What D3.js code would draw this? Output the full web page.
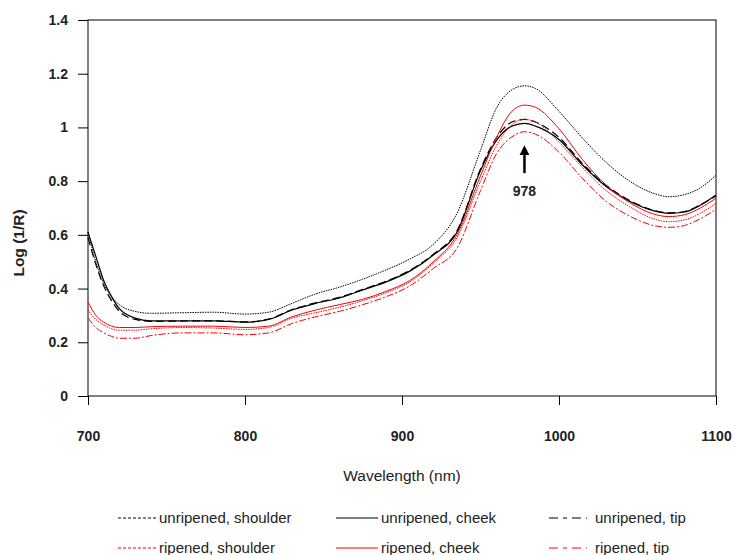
<!DOCTYPE html>
<html>
<head>
<meta charset="utf-8">
<title>NIR spectra</title>
<script src="https://d3js.org/d3.v7.min.js"></script>
<style>
  body { margin: 0; background: #fff; }
  text { font-family: "Liberation Sans", Arial, sans-serif; }
</style>
</head>
<body>
<div id="chart"></div>
<script>
// wavelengths (nm)
var wavelengths = [700, 705, 710, 715, 720, 730, 740, 760, 780, 800, 815, 830, 845, 860, 875, 890, 905, 920, 935, 950, 960, 970, 978, 985, 1000, 1015, 1030, 1045, 1060, 1070, 1080, 1090, 1100];

// log(1/R)
var unripenedShoulder = [0.61, 0.50, 0.42, 0.37, 0.34, 0.315, 0.308, 0.31, 0.312, 0.305, 0.312, 0.345, 0.38, 0.405, 0.435, 0.47, 0.51, 0.565, 0.68, 0.915, 1.07, 1.14, 1.155, 1.145, 1.06, 0.96, 0.87, 0.80, 0.755, 0.742, 0.75, 0.775, 0.822];
var unripenedCheek = [0.61, 0.52, 0.43, 0.37, 0.325, 0.29, 0.28, 0.28, 0.28, 0.275, 0.285, 0.32, 0.345, 0.365, 0.395, 0.425, 0.465, 0.525, 0.61, 0.84, 0.95, 1.005, 1.015, 1.005, 0.955, 0.86, 0.78, 0.725, 0.69, 0.68, 0.685, 0.71, 0.748];
var unripenedTip = [0.59, 0.49, 0.41, 0.355, 0.315, 0.285, 0.278, 0.279, 0.28, 0.276, 0.286, 0.322, 0.347, 0.367, 0.397, 0.428, 0.468, 0.528, 0.615, 0.845, 0.96, 1.02, 1.03, 1.02, 0.963, 0.865, 0.785, 0.728, 0.692, 0.682, 0.687, 0.712, 0.745];
var ripenedShoulder = [0.32, 0.285, 0.265, 0.25, 0.245, 0.245, 0.25, 0.255, 0.253, 0.248, 0.255, 0.29, 0.31, 0.33, 0.355, 0.385, 0.425, 0.495, 0.59, 0.80, 0.93, 1.01, 1.03, 1.02, 0.945, 0.85, 0.765, 0.705, 0.66, 0.649, 0.656, 0.68, 0.718];
var ripenedCheek = [0.35, 0.30, 0.275, 0.26, 0.255, 0.255, 0.258, 0.26, 0.26, 0.255, 0.26, 0.295, 0.32, 0.34, 0.36, 0.39, 0.43, 0.50, 0.60, 0.82, 0.96, 1.06, 1.083, 1.075, 0.995, 0.88, 0.785, 0.72, 0.678, 0.668, 0.675, 0.70, 0.737];
var ripenedTip = [0.29, 0.255, 0.235, 0.222, 0.215, 0.215, 0.225, 0.235, 0.235, 0.228, 0.235, 0.27, 0.295, 0.315, 0.34, 0.37, 0.41, 0.475, 0.55, 0.765, 0.90, 0.965, 0.984, 0.975, 0.908, 0.81, 0.725, 0.67, 0.635, 0.628, 0.635, 0.66, 0.695];

var seriesNames = ["unripened, shoulder", "unripened, cheek", "unripened, tip", "ripened, shoulder", "ripened, cheek", "ripened, tip"];
var seriesValues = [unripenedShoulder, unripenedCheek, unripenedTip, ripenedShoulder, ripenedCheek, ripenedTip];

var xTicks = [700, 800, 900, 1000, 1100];
var yTicks = [0, 0.2, 0.4, 0.6, 0.8, 1, 1.2, 1.4];
var peakLabel = 978;

// styles per series
var colors = ["#000", "#000", "#000", "#ff0000", "#ff0000", "#ff0000"];
var dashes = ["1.5,1", null, "8,4", "1.5,1", null, "7,2,2,2"];
var widths = [1, 1.2, 1.2, 1, 1, 1];
var legendDashes = ["3,2", null, "9,5,4,5", "3,2", null, "9,5,4,5"];

var W = 735, H = 555;
var mLeft = 88, mRight = 716, mTop = 20, mBottom = 396;

var svg = d3.select("#chart").append("svg")
    .attr("width", W).attr("height", H);

var x = d3.scaleLinear().domain([700, 1100]).range([mLeft, mRight]);
var y = d3.scaleLinear().domain([0, 1.4]).range([mBottom, mTop]);

// frame
svg.append("rect")
    .attr("x", mLeft).attr("y", mTop)
    .attr("width", mRight - mLeft).attr("height", mBottom - mTop)
    .attr("fill", "none").attr("stroke", "#000").attr("stroke-width", 1);

// axes
var xAxis = svg.append("g")
    .attr("transform", "translate(0," + mBottom + ")")
    .call(d3.axisBottom(x).tickValues(xTicks).tickSize(9).tickPadding(26).tickFormat(d3.format("d")));
var yAxis = svg.append("g")
    .attr("transform", "translate(" + mLeft + ",0)")
    .call(d3.axisLeft(y).tickValues(yTicks).tickSize(10).tickPadding(10).tickFormat(function(d) { return String(+d.toFixed(1)); }));
[xAxis, yAxis].forEach(function(a) {
    a.select(".domain").remove();
    a.selectAll("line").attr("stroke", "#000");
    a.selectAll("text")
        .attr("fill", "#222")
        .style("font-size", "14px")
        .style("font-weight", "bold")
        .style("font-family", "Liberation Sans, Arial, sans-serif");
});

// axis titles
svg.append("text")
    .attr("x", (mLeft + mRight) / 2).attr("y", 481)
    .attr("text-anchor", "middle")
    .style("font-size", "15.5px").attr("fill", "#222")
    .text("Wavelength (nm)");
svg.append("text")
    .attr("transform", "translate(24," + ((mTop + mBottom) / 2 + 35) + ") rotate(-90)")
    .attr("text-anchor", "middle")
    .style("font-size", "15.5px").style("font-weight", "bold").attr("fill", "#222")
    .text("Log (1/R)");

// lines
var line = d3.line()
    .x(function(d) { return x(d[0]); })
    .y(function(d) { return y(d[1]); })
    .curve(d3.curveMonotoneX);

seriesValues.forEach(function(vals, i) {
    var pts = wavelengths.map(function(w, j) { return [w, vals[j]]; });
    svg.append("path")
        .datum(pts)
        .attr("d", line)
        .attr("fill", "none")
        .attr("stroke", colors[i])
        .attr("stroke-width", widths[i])
        .attr("stroke-dasharray", dashes[i]);
});

// peak arrow
var ax = x(peakLabel);
svg.append("defs").append("marker")
    .attr("id", "head").attr("viewBox", "0 0 10 10")
    .attr("refX", 5).attr("refY", 5)
    .attr("markerWidth", 4).attr("markerHeight", 4)
    .attr("orient", "auto")
    .append("path").attr("d", "M0,0L10,5L0,10z").attr("fill", "#000");
svg.append("line")
    .attr("x1", ax).attr("x2", ax)
    .attr("y1", y(0.83)).attr("y2", y(0.915))
    .attr("stroke", "#000").attr("stroke-width", 2.5)
    .attr("marker-end", "url(#head)");
svg.append("text")
    .attr("x", ax).attr("y", y(0.745))
    .attr("text-anchor", "middle")
    .style("font-size", "14px").style("font-weight", "bold").attr("fill", "#222")
    .text(peakLabel);

// legend
var legCols = [118, 336, 549];
var legRows = [518, 548];
var sampleLen = [38, 42, 38];
var textGap = [3, 3, 8];
seriesNames.forEach(function(name, i) {
    var col = i % 3, row = Math.floor(i / 3);
    var lx = legCols[col], ly = legRows[row];
    svg.append("line")
        .attr("x1", lx).attr("x2", lx + sampleLen[col])
        .attr("y1", ly).attr("y2", ly)
        .attr("stroke", colors[i])
        .attr("stroke-width", 1.2)
        .attr("stroke-dasharray", legendDashes[i]);
    svg.append("text")
        .attr("x", lx + sampleLen[col] + textGap[col]).attr("y", ly + 5)
        .style("font-size", "15px").attr("fill", "#222")
        .text(name);
});
</script>
</body>
</html>
